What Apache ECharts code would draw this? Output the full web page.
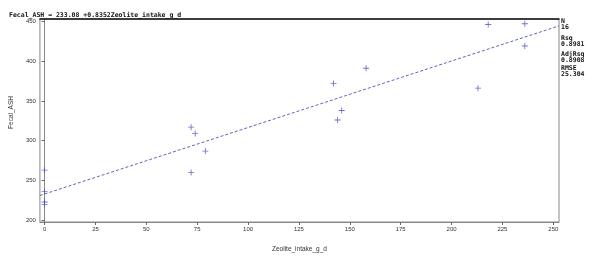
<!DOCTYPE html>
<html>
<head>
<meta charset="utf-8">
<script src="https://cdn.jsdelivr.net/npm/echarts@6/dist/echarts.min.js"></script>
<style>
  html, body { margin: 0; padding: 0; background: #fff; }
  #main { width: 590px; height: 263px; }
</style>
</head>
<body>
<div id="main"></div>
<script>
// zeolite intake (g/d) and fecal ash
var zeolite = [0, 0, 0, 0, 72, 74, 72, 79, 142, 144, 146, 158, 213, 218, 236, 236];
var fecalAsh = [263, 236, 223, 220, 317, 309, 260, 287, 372, 326, 338, 391, 366, 446, 447, 419];

// fit: Fecal_ASH = 233.08 + 0.8352 * Zeolite_intake_g_d
var intercept = 233.08;
var slope = 0.8352;

var xTicks = [0, 25, 50, 75, 100, 125, 150, 175, 200, 225, 250];
var yTicks = [200, 250, 300, 350, 400, 450];

var statNames = ['N', 'Rsq', 'AdjRsq', 'RMSE'];
var statValues = ['16', '0.8981', '0.8908', '25.304'];

var xMin = -2.3, xMax = 252.8;
var yMin = 197.9, yMax = 452.9;

var points = zeolite.map(function (x, i) { return [x, fecalAsh[i]]; });
var fitLine = [xMin, xMax].map(function (x) { return [x, intercept + slope * x]; });

var mono = 'DejaVu Sans Mono';
var sans = 'Liberation Sans';

// stats box on the right, one block per statistic
var statTops = [18, 35, 51, 64.5];
var statGraphics = statNames.map(function (n, i) {
  return {
    type: 'text', left: 561, top: statTops[i],
    style: {
      text: n + '\n' + statValues[i], fontFamily: mono, fontSize: 6.5,
      fontWeight: 'bold', fill: '#111', lineHeight: 6
    }
  };
});

var chart = echarts.init(document.getElementById('main'));
chart.setOption({
  animation: false,
  backgroundColor: '#fff',
  title: {
    text: 'Fecal_ASH = 233.08 +0.8352Zeolite_intake_g_d',
    left: 4, top: 7,
    textStyle: { fontFamily: mono, fontSize: 6.5, fontWeight: 'bold', color: '#111' }
  },
  graphic: statGraphics,
  grid: {
    left: 27, right: 31, top: 19, bottom: 41,
    show: true, borderColor: '#888', borderWidth: 1
  },
  xAxis: [{
    type: 'value', min: xMin, max: xMax,
    name: 'Zeolite_intake_g_d', nameLocation: 'middle', nameGap: 24,
    nameTextStyle: { fontFamily: sans, fontSize: 6.5, color: '#333' },
    axisLine: { lineStyle: { color: '#888' } },
    axisTick: { customValues: xTicks, length: 3, lineStyle: { color: '#666' } },
    axisLabel: { customValues: xTicks, fontFamily: sans, fontSize: 6, color: '#333', margin: 4 },
    splitLine: { show: false }
  }, {
    type: 'value', min: xMin, max: xMax, position: 'top',
    axisLine: { show: true, lineStyle: { color: '#111', width: 1.5 } },
    axisTick: { show: false }, axisLabel: { show: false }, splitLine: { show: false }
  }],
  yAxis: {
    type: 'value', min: yMin, max: yMax,
    name: 'Fecal_ASH', nameLocation: 'middle', nameGap: 19,
    nameTextStyle: { fontFamily: sans, fontSize: 6.5, color: '#333', padding: [0, 0, 0, 16] },
    axisLine: { show: true, lineStyle: { color: '#888' } },
    axisTick: { show: true, customValues: yTicks, length: 3, lineStyle: { color: '#666' } },
    axisLabel: { customValues: yTicks, fontFamily: sans, fontSize: 6, color: '#333', margin: 4 },
    splitLine: { show: false }
  },
  series: [{
    type: 'line', data: fitLine, showSymbol: false, silent: true,
    lineStyle: { color: '#6464b8', width: 1, type: [3, 2] }
  }, {
    type: 'scatter', data: points,
    symbol: 'path://M3,0h1v3h3v1h-3v3h-1v-3h-3v-1h3z', symbolSize: 6,
    itemStyle: { color: '#4a4ac0' }
  }]
});
</script>
</body>
</html>
